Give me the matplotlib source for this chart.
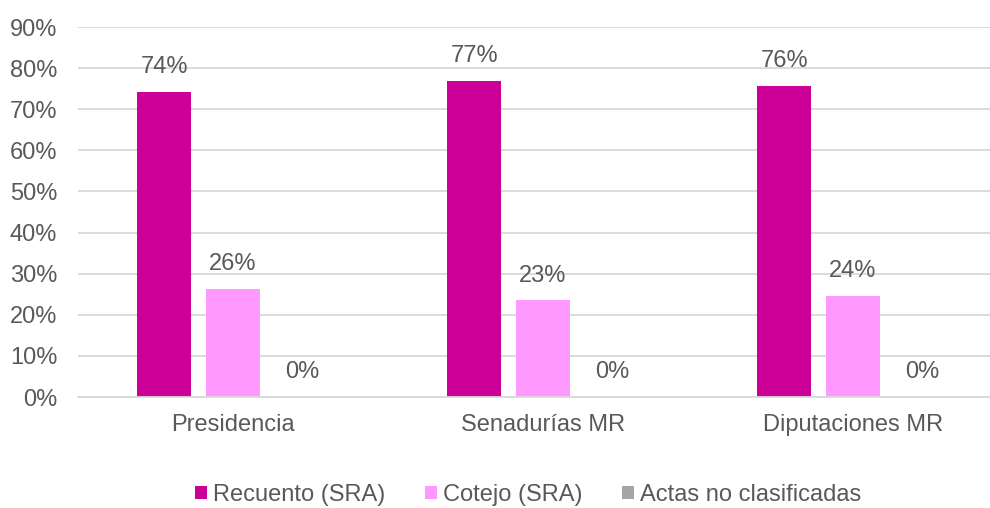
import matplotlib
matplotlib.use("Agg")
import matplotlib.pyplot as plt
import numpy as np

# --- data ---
categories = ["Presidencia", "Senadurías MR", "Diputaciones MR"]
series_names = ["Recuento (SRA)", "Cotejo (SRA)", "Actas no clasificadas"]
recuento = [74.2, 76.9, 75.7]
cotejo = [26.3, 23.5, 24.5]
no_clasif = [0.1, 0.1, 0.1]
labels_recuento = ["74%", "77%", "76%"]
labels_cotejo = ["26%", "23%", "24%"]
labels_no_clasif = ["0%", "0%", "0%"]
yticks = list(range(0, 100, 10))

colors = ["#CC0099", "#FF99FF", "#A6A6A6"]
TEXT = "#595959"

plt.rcParams["font.family"] = ["Liberation Sans", "DejaVu Sans"]

fig = plt.figure(figsize=(9.9, 5.08), dpi=100)
ax = fig.add_axes([78 / 990, 1 - 397 / 508, 930 / 990, 370 / 508])

x = np.arange(len(categories))
width = 0.174
offsets = [-0.222, 0.0, 0.222]
for vals, labs, off, col, name in zip([recuento, cotejo, no_clasif],
                                      [labels_recuento, labels_cotejo, labels_no_clasif],
                                      offsets, colors, series_names):
    bars = ax.bar(x + off, vals, width, color=col, label=name, zorder=2)
    for b, lab in zip(bars, labs):
        ax.annotate(lab, xy=(b.get_x() + b.get_width() / 2, b.get_height()),
                    xytext=(0, 10), textcoords="offset points",
                    ha="center", va="bottom", fontsize=17, color=TEXT)

ax.set_xlim(-0.5, 2.5)
ax.set_ylim(0, 90)
ax.set_yticks(yticks)
ax.set_yticklabels([f"{t}%" for t in yticks])
ax.set_xticks(x)
ax.set_xticklabels(categories)
ax.tick_params(axis="both", length=0, labelsize=17, labelcolor=TEXT)
ax.tick_params(axis="y", pad=15)
ax.tick_params(axis="x", pad=12)
ax.grid(axis="y", color="#D9D9D9", lw=1.3, zorder=0)
ax.set_axisbelow(True)
for s in ["top", "right", "left"]:
    ax.spines[s].set_visible(False)
ax.spines["bottom"].set_color("#D9D9D9")
ax.spines["bottom"].set_linewidth(1.3)

fig.legend(loc="center", bbox_to_anchor=(528 / 990, 1 - 495 / 508), ncol=3,
           frameon=False, fontsize=17, labelcolor=TEXT,
           handlelength=0.5, handleheight=0.5, handletextpad=0.25, columnspacing=1.7)

fig.savefig("out.png", dpi=100)
